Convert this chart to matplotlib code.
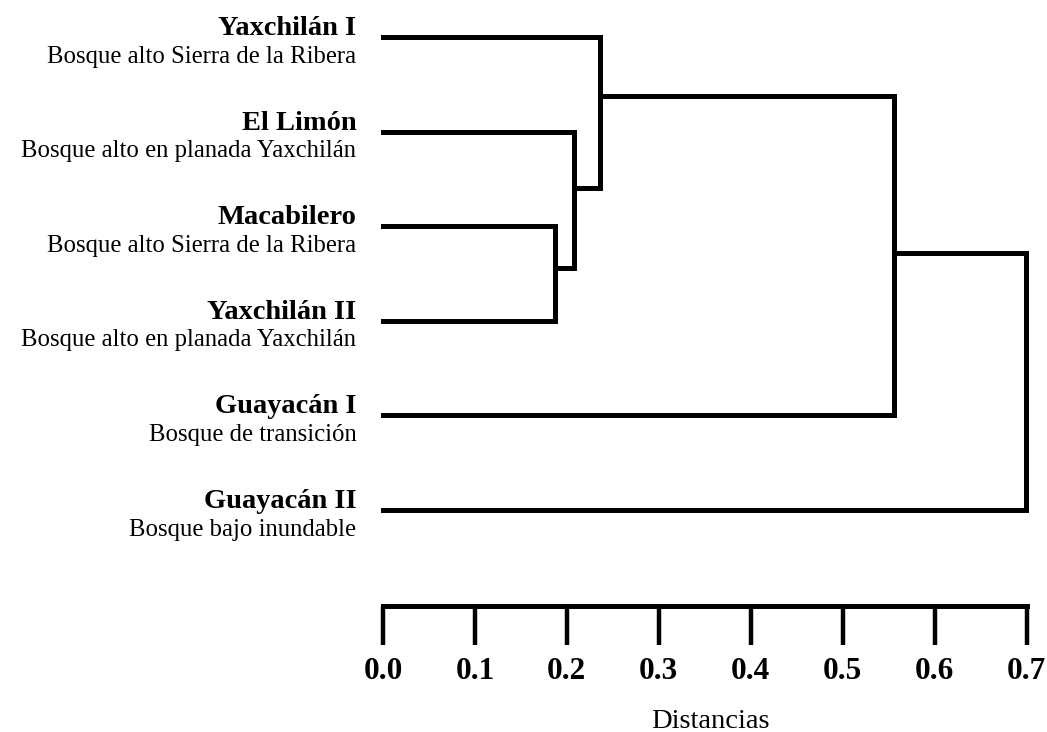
import matplotlib

matplotlib.use("Agg")

import matplotlib.pyplot as plt

# sites in dendrogram order (top to bottom)
site_names = [
    "Yaxchilán I",
    "El Limón",
    "Macabilero",
    "Yaxchilán II",
    "Guayacán I",
    "Guayacán II",
]
site_habitats = [
    "Bosque alto Sierra de la Ribera",
    "Bosque alto en planada Yaxchilán",
    "Bosque alto Sierra de la Ribera",
    "Bosque alto en planada Yaxchilán",
    "Bosque de transición",
    "Bosque bajo inundable",
]

# clusters: leaves are 0..5, each merge creates node 6, 7, ...
merge_left = [2, 1, 0, 8, 9]
merge_right = [3, 6, 7, 4, 5]
merge_distance = [0.187, 0.208, 0.236, 0.556, 0.699]
# row where the parent branch leaves each merged cluster
merge_attach = [2.44, 1.60, 0.62, 2.28, 3.6]

distance_ticks = [0.0, 0.1, 0.2, 0.3, 0.4, 0.5, 0.6, 0.7]

SERIF = ["Liberation Serif", "DejaVu Serif"]
LW = 3.6

fig = plt.figure(figsize=(10.47, 7.32), dpi=100)
ax = fig.add_axes([383 / 1047, 1 - 606 / 732, 643.5 / 1047, 606 / 732])
ax.set_xlim(0, 0.7)
ax.set_ylim(6.015, -0.391)

n_leaves = len(site_names)
node_x = [0.0] * n_leaves
node_y = list(range(n_leaves))

for left, right, dist, attach in zip(merge_left, merge_right, merge_distance, merge_attach):
    y_top = node_y[left]
    y_bot = node_y[right]
    # horizontal branches from each child to the merge distance
    for child in (left, right):
        ax.plot([node_x[child], dist], [node_y[child], node_y[child]],
                color="black", lw=LW, solid_capstyle="projecting", clip_on=False)
    ax.plot([dist, dist], [y_top, y_bot], color="black", lw=LW,
            solid_capstyle="projecting", clip_on=False)
    node_x.append(dist)
    node_y.append(attach)

label_x = -0.029
for i, (name, habitat) in enumerate(zip(site_names, site_habitats)):
    ax.text(label_x, i - 0.02, name, ha="right", va="baseline",
            fontsize=20.5, fontweight="bold", family=SERIF, clip_on=False)
    ax.text(label_x, i + 0.27, habitat, ha="right", va="baseline",
            fontsize=17.8, family=SERIF, clip_on=False)

# distance ruler along the bottom
for side in ("left", "right", "top"):
    ax.spines[side].set_visible(False)
ax.spines["bottom"].set_linewidth(LW)
ax.set_yticks([])
ax.set_xticks(distance_ticks)
ax.set_xticklabels([f"{t:.1f}" for t in distance_ticks],
                   fontsize=22.5, fontweight="bold", family=SERIF)
ax.tick_params(axis="x", direction="out", length=28, width=3.2, pad=9, colors="black")

ax.set_xlabel("Distancias", fontsize=20.5, family=SERIF, va="baseline")
ax.xaxis.set_label_coords(0.508, -0.201)

fig.savefig("out.png", dpi=100)
